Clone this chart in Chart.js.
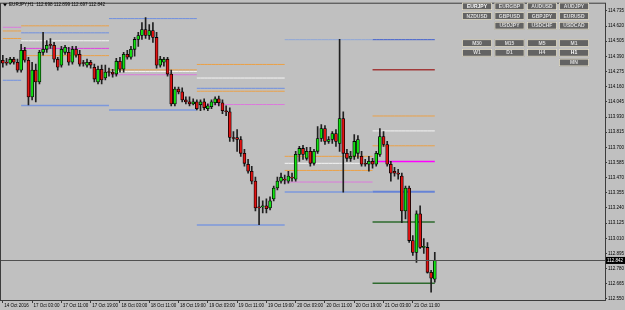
<!DOCTYPE html>
<html>
<head>
<meta charset="utf-8">
<title>EURJPY,H1</title>
<script src="https://cdn.jsdelivr.net/npm/chart.js@4.4.1/dist/chart.umd.min.js"></script>
<style>
    html, body { margin: 0; padding: 0; background: #c0c0c0; overflow: hidden; }
    #priceChart { display: block; }
</style>
</head>
<body>
<canvas id="priceChart" width="625" height="310"></canvas>
<script>
// EURJPY H1 candles, 14 Oct 19:00 .. 21 Oct 17:00
const opens = [
    114.361, 114.346, 114.339, 114.369, 114.346, 114.286, 114.436, 114.361, 114.083, 114.286,
    114.196, 114.421, 114.444, 114.481, 114.474, 114.369, 114.324, 114.421, 114.421, 114.346,
    114.444, 114.406, 114.339, 114.324, 114.346, 114.308, 114.196, 114.293, 114.226, 114.271,
    114.271, 114.256, 114.354, 114.293, 114.406, 114.384, 114.444, 114.519, 114.549, 114.594,
    114.549, 114.587, 114.534, 114.324, 114.346, 114.369, 114.256, 114.030, 114.143, 114.121,
    114.060, 114.045, 114.030, 114.045, 114.023, 114.045, 113.993, 114.008, 114.038, 114.068,
    114.038, 113.978, 113.970, 113.775, 113.775, 113.760, 113.655, 113.572, 113.519, 113.444,
    113.249, 113.249, 113.256, 113.241, 113.309, 113.392, 113.444, 113.459, 113.444, 113.474,
    113.459, 113.647, 113.692, 113.617, 113.670, 113.579, 113.670, 113.767, 113.842, 113.745,
    113.760, 113.805, 113.730, 113.918, 113.655, 113.617, 113.632, 113.655, 113.632, 113.579,
    113.572, 113.594, 113.572, 113.647, 113.782, 113.722, 113.572, 113.519, 113.504, 113.482,
    113.218, 113.392, 112.993, 112.903, 113.196, 112.941, 112.941, 112.752, 112.700
];
const highs = [
    114.399, 114.376, 114.384, 114.384, 114.369, 114.481, 114.459, 114.384, 114.346, 114.331,
    114.436, 114.572, 114.511, 114.526, 114.496, 114.384, 114.466, 114.474, 114.459, 114.466,
    114.466, 114.436, 114.361, 114.369, 114.361, 114.331, 114.316, 114.324, 114.324, 114.301,
    114.293, 114.376, 114.384, 114.421, 114.436, 114.466, 114.534, 114.572, 114.647, 114.684,
    114.632, 114.647, 114.572, 114.391, 114.384, 114.384, 114.286, 114.158, 114.158, 114.151,
    114.083, 114.083, 114.068, 114.060, 114.060, 114.068, 114.030, 114.060, 114.083, 114.090,
    114.060, 114.015, 114.000, 113.820, 113.835, 113.782, 113.685, 113.609, 113.557, 113.474,
    113.324, 113.294, 113.309, 113.324, 113.407, 113.474, 113.504, 113.489, 113.519, 113.504,
    113.670, 113.707, 113.715, 113.700, 113.700, 113.685, 113.857, 113.873, 113.865, 113.782,
    113.820, 113.835, 114.519, 113.970, 113.685, 113.670, 113.797, 113.790, 113.670, 113.609,
    113.632, 113.617, 113.670, 113.842, 113.820, 113.745, 113.594, 113.549, 113.534, 113.504,
    113.407, 113.407, 113.031, 113.218, 113.256, 113.008, 112.978, 112.767, 112.903
];
const lows = [
    114.308, 114.324, 114.331, 114.331, 114.271, 114.271, 114.346, 114.023, 114.060, 114.045,
    114.181, 114.399, 114.421, 114.451, 114.346, 114.286, 114.308, 114.406, 114.324, 114.331,
    114.384, 114.316, 114.316, 114.308, 114.301, 114.196, 114.181, 114.181, 114.211, 114.241,
    114.233, 114.241, 114.271, 114.271, 114.369, 114.369, 114.391, 114.466, 114.519, 114.526,
    114.519, 114.496, 114.301, 114.308, 114.316, 114.241, 114.015, 114.015, 114.106, 114.045,
    114.030, 114.015, 114.023, 113.985, 113.978, 113.985, 113.978, 113.993, 114.023, 114.015,
    113.955, 113.940, 113.745, 113.745, 113.670, 113.632, 113.557, 113.504, 113.422, 113.218,
    113.113, 113.203, 113.203, 113.226, 113.294, 113.377, 113.429, 113.422, 113.429, 113.444,
    113.444, 113.594, 113.609, 113.602, 113.557, 113.564, 113.655, 113.745, 113.722, 113.730,
    113.730, 113.707, 113.670, 113.361, 113.594, 113.594, 113.609, 113.617, 113.557, 113.557,
    113.519, 113.542, 113.557, 113.632, 113.707, 113.557, 113.444, 113.482, 113.459, 113.128,
    113.158, 112.978, 112.880, 112.828, 112.933, 112.896, 112.745, 112.602, 112.677
];
const closes = [
    114.339, 114.339, 114.369, 114.346, 114.286, 114.436, 114.361, 114.083, 114.286, 114.196,
    114.421, 114.444, 114.474, 114.474, 114.369, 114.308, 114.444, 114.459, 114.346, 114.444,
    114.399, 114.331, 114.336, 114.346, 114.324, 114.218, 114.293, 114.211, 114.271, 114.268,
    114.256, 114.354, 114.293, 114.406, 114.384, 114.444, 114.519, 114.549, 114.594, 114.549,
    114.587, 114.534, 114.324, 114.369, 114.369, 114.256, 114.030, 114.143, 114.121, 114.060,
    114.045, 114.030, 114.045, 113.993, 114.045, 114.000, 114.015, 114.045, 114.068, 114.038,
    113.978, 113.970, 113.775, 113.767, 113.760, 113.655, 113.579, 113.519, 113.444, 113.241,
    113.241, 113.256, 113.234, 113.294, 113.392, 113.444, 113.474, 113.452, 113.482, 113.467,
    113.647, 113.692, 113.647, 113.670, 113.579, 113.670, 113.767, 113.842, 113.745, 113.760,
    113.805, 113.745, 113.918, 113.655, 113.617, 113.632, 113.745, 113.760, 113.572, 113.572,
    113.594, 113.572, 113.655, 113.782, 113.722, 113.572, 113.504, 113.504, 113.497, 113.218,
    113.392, 112.993, 112.903, 113.196, 112.941, 112.946, 112.752, 112.708, 112.842
];

const barCount = 165;   // visible bar slots incl. empty chart shift on the right
const timeLabels = ['14 Oct 2016', '17 Oct 03:00', '17 Oct 11:00', '17 Oct 19:00', '18 Oct 03:00',
    '18 Oct 11:00', '18 Oct 19:00', '19 Oct 03:00', '19 Oct 11:00', '19 Oct 19:00', '20 Oct 03:00',
    '20 Oct 11:00', '20 Oct 19:00', '21 Oct 03:00', '21 Oct 11:00'];
const timeLabelBars = [0, 8, 16, 24, 32, 40, 48, 56, 64, 72, 80, 88, 96, 104, 112];
const priceTicks = [114.735, 114.620, 114.505, 114.390, 114.275, 114.160, 114.045, 113.930, 113.815,
    113.700, 113.585, 113.470, 113.355, 113.240, 113.125, 113.010, 112.895, 112.780, 112.665, 112.550];
const bidPrice = 112.842;
const headerText = 'EURJPY,H1  112.698 112.899 112.697 112.842';

// daily levels: day bar ranges, then one entry per line
const dayFrom = [0, 5, 29, 53, 77, 101];
const dayTo = [5, 29, 53, 77, 101, 118];
const levelDay = [0, 0, 0, 0,
    1, 1, 1, 1, 1, 1,
    2, 2, 2, 2, 2,
    3, 3, 3, 3, 3, 3,
    4, 4, 4, 4, 4, 4,
    5, 5, 5, 5, 5, 5, 5, 5, 5];
const levelPrice = [114.611, 114.583, 114.526, 114.209,
    114.622, 114.569, 114.509, 114.451, 114.396, 114.018,
    114.677, 114.288, 114.276, 114.251, 113.983,
    114.329, 114.226, 114.148, 114.126, 114.025, 113.111,
    114.517, 113.632, 113.579, 113.525, 113.437, 113.361,
    114.517, 114.288, 113.938, 113.825, 113.712, 113.592, 113.364, 113.134, 112.670];
const levelKind = ['pink', 'orange', 'orange', 'blue',
    'orange', 'blue', 'white', 'magenta', 'orange', 'blueLow',
    'blue', 'orange', 'white', 'pink', 'blueLow',
    'orange', 'white', 'blue', 'orange', 'pink', 'blueLow',
    'paleBlue', 'orange', 'white', 'orange', 'pink', 'blueLow',
    'royal', 'darkred', 'orange', 'white', 'orange', 'magentaHot', 'blueThick', 'green', 'green'];

const symbolRows = [
    ['EURJPY', 'EURGBP', 'AUDUSD', 'AUDJPY'],
    ['NZDUSD', 'GBPUSD', 'GBPJPY', 'EURUSD'],
    [null, 'USDJPY', 'USDCHF', 'USDCAD']
];
const periodRows = [
    ['M30', 'M15', 'M5', 'M1'],
    ['W1', 'D1', 'H4', 'H1'],
    [null, null, null, 'MN']
];
const activeButtons = ['EURJPY', 'H1'];

const FONT = 'Liberation Sans, Arial, sans-serif';

const kindStyle = {
    orange: { color: '#eba046', width: 1 },
    white: { color: '#f4f4f4', width: 1 },
    blue: { color: '#6f8fe0', width: 1 },
    paleBlue: { color: '#8ea6d8', width: 1 },
    royal: { color: '#3f5fcf', width: 1 },
    blueLow: { color: '#7c98dc', width: 1.5 },
    blueThick: { color: '#6683d6', width: 2 },
    pink: { color: '#dc78dc', width: 1 },
    magenta: { color: '#e040e0', width: 1 },
    magentaHot: { color: '#ff00ff', width: 1.5 },
    darkred: { color: '#a23a3a', width: 1.5 },
    green: { color: '#2e6b2e', width: 1.5 }
};

function buildLevelDatasets() {
    return levelPrice.map((price, k) => {
        const d = levelDay[k];
        const style = kindStyle[levelKind[k]];
        const data = [];
        for (let i = 0; i < barCount; i++) {
            data.push(i >= dayFrom[d] && i <= dayTo[d] ? price : null);
        }
        return {
            type: 'line',
            data: data,
            borderColor: style.color,
            borderWidth: style.width,
            pointRadius: 0,
            spanGaps: false,
            order: 3
        };
    });
}

const labels = Array.from({ length: barCount }, (_, i) => i);

const backgroundPlugin = {
    id: 'background',
    beforeDraw(chart) {
        const ctx = chart.ctx;
        ctx.save();
        ctx.fillStyle = '#c0c0c0';
        ctx.fillRect(0, 0, chart.width, chart.height);
        ctx.restore();
    }
};

const overlayPlugin = {
    id: 'overlay',
    afterDatasetsDraw(chart) {
        const ctx = chart.ctx;
        const area = chart.chartArea;
        const y = chart.scales.y.getPixelForValue(bidPrice);
        ctx.save();
        // bid line
        ctx.strokeStyle = '#505050';
        ctx.lineWidth = 1;
        ctx.beginPath();
        ctx.moveTo(area.left, Math.round(y) + 0.5);
        ctx.lineTo(area.right, Math.round(y) + 0.5);
        ctx.stroke();
        ctx.restore();
    },
    afterDraw(chart) {
        const ctx = chart.ctx;
        const area = chart.chartArea;
        ctx.save();
        // frame
        ctx.strokeStyle = '#3c3c3c';
        ctx.lineWidth = 1;
        ctx.strokeRect(area.left - 0.5, area.top - 0.5, area.right - area.left + 1, area.bottom - area.top + 1);

        // bid price label on the axis
        const y = chart.scales.y.getPixelForValue(bidPrice);
        ctx.fillStyle = '#000';
        ctx.fillRect(area.right + 1, y - 3.5, 19, 7);
        ctx.fillStyle = '#fff';
        ctx.font = '4.5px ' + FONT;
        ctx.textBaseline = 'middle';
        ctx.textAlign = 'left';
        ctx.fillText(bidPrice.toFixed(3), area.right + 2, y);

        // header
        ctx.fillStyle = '#000';
        ctx.beginPath();
        ctx.moveTo(3, 3.5);
        ctx.lineTo(7, 3.5);
        ctx.lineTo(5, 6.5);
        ctx.closePath();
        ctx.fill();
        ctx.font = '4.6px ' + FONT;
        ctx.fillText(headerText, 9, 5);

        // symbol / period buttons
        const colX = [462, 494.5, 527, 559];
        const drawRows = (rows, top) => {
            rows.forEach((row, r) => {
                row.forEach((name, c) => {
                    if (!name) return;
                    const x = colX[c];
                    const by = top + r * 9.7;
                    ctx.fillStyle = '#636363';
                    ctx.fillRect(x, by, 30, 7.6);
                    ctx.strokeStyle = '#e8e2cc';
                    ctx.lineWidth = 0.8;
                    ctx.strokeRect(x + 0.4, by + 0.4, 29.2, 6.8);
                    ctx.fillStyle = activeButtons.includes(name) ? '#ffffff' : '#dcdcdc';
                    ctx.font = 'bold 5px ' + FONT;
                    ctx.textAlign = 'center';
                    ctx.fillText(name, x + 15, by + 4);
                });
            });
        };
        drawRows(symbolRows, 2.5);
        drawRows(periodRows, 39.3);
        ctx.restore();
    }
};

const ctx = document.getElementById('priceChart').getContext('2d');
new Chart(ctx, {
    type: 'bar',
    data: {
        labels: labels,
        datasets: [
            {
                // bodies
                data: opens.map((o, i) => [o, closes[i]]),
                backgroundColor: opens.map((o, i) => (closes[i] >= o ? '#12e012' : '#e01212')),
                borderColor: '#000',
                borderWidth: 0.8,
                borderSkipped: false,
                barThickness: 3,
                minBarLength: 1,
                grouped: false,
                order: 0
            },
            {
                // wicks
                data: lows.map((l, i) => [l, highs[i]]),
                backgroundColor: '#202020',
                borderWidth: 0,
                barThickness: 1,
                grouped: false,
                order: 1
            },
            ...buildLevelDatasets()
        ]
    },
    options: {
        responsive: false,
        animation: false,
        devicePixelRatio: 1,
        layout: { padding: { left: 1, top: 1, right: 0, bottom: 0 } },
        plugins: {
            legend: { display: false },
            tooltip: { enabled: false }
        },
        scales: {
            x: {
                type: 'category',
                offset: true,
                afterFit(scale) { scale.height = 10; },
                grid: {
                    display: true,
                    offset: false,
                    drawOnChartArea: false,
                    tickLength: 3,
                    color: '#3c3c3c'
                },
                border: { display: false },
                ticks: {
                    autoSkip: false,
                    maxRotation: 0,
                    minRotation: 0,
                    align: 'start',
                    labelOffset: 1.5,
                    padding: 0,
                    color: '#000',
                    font: { family: FONT, size: 4.5 },
                    callback(value, index) {
                        const k = timeLabelBars.indexOf(index);
                        return k >= 0 ? timeLabels[k] : null;
                    }
                }
            },
            y: {
                position: 'right',
                min: 112.542,
                max: 114.790,
                afterFit(scale) { scale.width = 20; },
                afterBuildTicks(scale) {
                    scale.ticks = priceTicks.map(v => ({ value: v }));
                },
                grid: {
                    display: true,
                    drawOnChartArea: false,
                    tickLength: 2,
                    color: '#3c3c3c'
                },
                border: { display: false },
                ticks: {
                    autoSkip: false,
                    padding: 1,
                    color: '#000',
                    font: { family: FONT, size: 4.5 },
                    callback(value) { return Number(value).toFixed(3); }
                }
            }
        }
    },
    plugins: [backgroundPlugin, overlayPlugin]
});
</script>
</body>
</html>
